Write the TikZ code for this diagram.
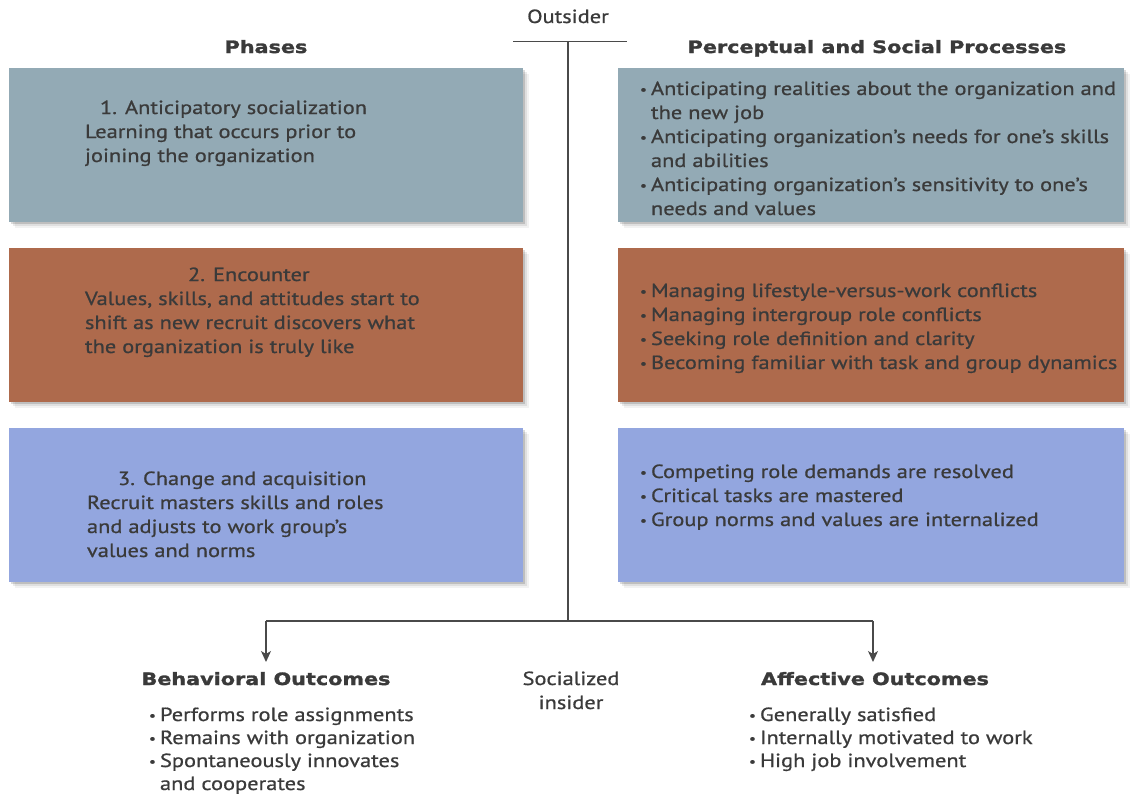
\documentclass[tikz,border=0pt]{standalone}
\usepackage{fontspec}
\setmainfont{PT Sans}[FakeStretch=1.18, FakeBold=0.8]
\newfontfamily\headfont{DejaVu Sans}[FakeStretch=1.22, FakeBold=1.6]
\usetikzlibrary{arrows.meta,shadows}
\definecolor{txt}{HTML}{3A3A3A}
\definecolor{linec}{HTML}{4A4A4A}
\definecolor{cteal}{HTML}{93AAB5}
\definecolor{cbrown}{HTML}{AE6A4C}
\definecolor{cblue}{HTML}{93A6DF}
\newcommand\bul{\makebox[11pt][l]{\raisebox{1pt}{\fontsize{13}{24}\selectfont •}}}
\begin{document}
\begin{tikzpicture}[x=1pt,y=-1pt,
  every node/.style={text=txt, inner sep=0pt, outer sep=0pt},
  body/.style={font=\fontsize{19}{24}\selectfont, anchor=base west},
  low/.style={font=\fontsize{19}{23}\selectfont, anchor=base west},
  plain/.style={font=\fontsize{19}{24}\selectfont, anchor=base},
  head/.style={font=\headfont\bfseries\fontsize{17}{24}\selectfont, anchor=base},
  box/.style={anchor=north west, minimum height=154pt,
    drop shadow={shadow xshift=2pt,shadow yshift=-2pt,opacity=.14,fill=black},
    drop shadow={shadow xshift=4pt,shadow yshift=-4pt,opacity=.08,fill=black},
    drop shadow={shadow xshift=6pt,shadow yshift=-6pt,opacity=.05,fill=black}},
  conn/.style={draw=linec, line width=1.3pt},
  arr/.style={conn, -{Stealth[length=11pt,width=10pt,inset=3pt]}}
]
\useasboundingbox[fill=white] (0,0) rectangle (1133,795);

% boxes
\node[box, fill=cteal,  minimum width=514pt] (p1) at (9,68) {};
\node[box, fill=cbrown, minimum width=514pt] (p2) at (9,248) {};
\node[box, fill=cblue,  minimum width=514pt] (p3) at (9,428) {};
\node[box, fill=cteal,  minimum width=506pt] (q1) at (618,68) {};
\node[box, fill=cbrown, minimum width=506pt] (q2) at (618,248) {};
\node[box, fill=cblue,  minimum width=506pt] (q3) at (618,428) {};

% headings
\node[plain] (outsider) at (568,23) {Outsider};
\node[head] (phases) at (266,53) {Phases};
\node[head] (procs) at (877,53) {Perceptual and Social Processes};

% phase texts
\node[body] (p1t) at (85,114) {\begin{tabular}[t]{@{}l@{}}\hspace*{15pt}1. Anticipatory socialization\\ Learning that occurs prior to\\ joining the organization\end{tabular}};
\node[body] (p2t) at (85,281) {\begin{tabular}[t]{@{}l@{}}\hspace*{103pt}2. Encounter\\ Values, skills, and attitudes start to\\ shift as new recruit discovers what\\ the organization is truly like\end{tabular}};
\node[body] (p3t) at (87,485) {\begin{tabular}[t]{@{}l@{}}\hspace*{31pt}3. Change and acquisition\\ Recruit masters skills and roles\\ and adjusts to work group's\\ values and norms\end{tabular}};

% process texts
\node[body] (q1t) at (640,95) {\begin{tabular}[t]{@{}l@{}l@{}}\bul & Anticipating realities about the organization and\\ & the new job\\ \bul & Anticipating organization's needs for one's skills\\ & and abilities\\ \bul & Anticipating organization's sensitivity to one's\\ & needs and values\end{tabular}};
\node[body] (q2t) at (640,297) {\begin{tabular}[t]{@{}l@{}l@{}}\bul & Managing lifestyle-versus-work conflicts\\ \bul & Managing intergroup role conflicts\\ \bul & Seeking role definition and clarity\\ \bul & Becoming familiar with task and group dynamics\end{tabular}};
\node[body] (q3t) at (640,478) {\begin{tabular}[t]{@{}l@{}l@{}}\bul & Competing role demands are resolved\\ \bul & Critical tasks are mastered\\ \bul & Group norms and values are internalized\end{tabular}};

% outcomes
\node[head] (beh) at (266,685) {Behavioral Outcomes};
\node[head] (aff) at (875,685) {Affective Outcomes};
\node[plain] (ins) at (571,685) {\begin{tabular}[t]{@{}c@{}}Socialized\\ insider\end{tabular}};
\node[low] (beht) at (149,721) {\begin{tabular}[t]{@{}l@{}l@{}}\bul & Performs role assignments\\ \bul & Remains with organization\\ \bul & Spontaneously innovates\\ & and cooperates\end{tabular}};
\node[low] (afft) at (749,721) {\begin{tabular}[t]{@{}l@{}l@{}}\bul & Generally satisfied\\ \bul & Internally motivated to work\\ \bul & High job involvement\end{tabular}};

% connectors
\coordinate (o1) at (513,41);
\coordinate (o2) at (627,41);
\coordinate (oc) at (568,41);
\coordinate (jc) at (568,621);
\coordinate (jl) at (266,621);
\coordinate (jr) at (873,621);
\coordinate (al) at (266,662);
\coordinate (ar) at (873,662);
\draw[conn, line width=0.9pt] (o1) -- (o2);
\draw[conn] (oc) -- (jc);
\draw[conn] (jl) -- (jr);
\draw[arr] (jl) -- (al);
\draw[arr] (jr) -- (ar);
\end{tikzpicture}
\end{document}
